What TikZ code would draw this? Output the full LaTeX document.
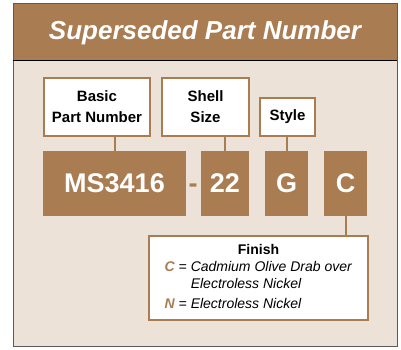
\documentclass[tikz,border=0pt]{standalone}
\usepackage{fontspec}
\setmainfont{Liberation Sans}
\definecolor{brown}{HTML}{A97C52}
\definecolor{beige}{HTML}{EDE2D7}
\definecolor{frame}{HTML}{5A5A5A}
\tikzset{
  labelbox/.style={draw=brown, line width=2pt, fill=white, minimum height=58pt, inner sep=0pt, outer sep=0pt, align=center, font=\fontsize{15}{21}\selectfont\bfseries},
  codebox/.style={fill=brown, minimum height=65pt, inner sep=0pt, outer sep=0pt, text=white, font=\fontsize{27}{30}\selectfont\bfseries},
  link/.style={draw=brown, line width=2pt}
}

\begin{document}
\begin{tikzpicture}[x=1pt, y=-1pt]
\useasboundingbox (0, 0) rectangle (401, 350);
\filldraw[fill=beige, draw=frame, line width=1pt] (13, 4) rectangle (397, 346);
\filldraw[fill=brown, draw=frame, line width=1pt] (13, 4) rectangle (397, 61);
\draw[black, line width=1pt] (13, 61) -- (397, 61);
\node (title) [text=white, font=\fontsize{26}{30}\selectfont\bfseries\itshape] at (205, 32.5) {Superseded Part Number};

\node (basic) [labelbox, minimum width=106pt] at (97, 107) {Basic\\Part Number};
\node (shell) [labelbox, minimum width=87pt] at (205.5, 107) {Shell\\Size};
\node (style) [labelbox, minimum width=55pt, minimum height=38pt] at (287.5, 117) {Style};

\node (ms) [codebox, minimum width=143pt] at (114.5, 183.5) {MS3416};
\node (dash) [text=brown, anchor=base, font=\fontsize{27}{30}\selectfont\bfseries] at ([xshift=78.5pt]ms.base) {-};
\node (size) [codebox, minimum width=48pt] at (225, 183.5) {22};
\node (shape) [codebox, minimum width=43pt] at (286.5, 183.5) {G};
\node (plating) [codebox, minimum width=43pt] at (345.5, 183.5) {C};

\node (finish) [draw=brown, line width=2pt, fill=white, minimum width=219pt, minimum height=84pt, inner sep=0pt, outer sep=0pt, font=\fontsize{14}{17}\selectfont] at (258.5, 278) {%
\begin{tabular}{@{}l@{}}
\multicolumn{1}{@{}c@{}}{\bfseries Finish}\\
\textcolor{brown}{\bfseries\itshape C} \textit{= Cadmium Olive Drab over}\\
\phantom{\bfseries C = }\textit{Electroless Nickel}\\[3pt]
\textcolor{brown}{\bfseries\itshape N} \textit{= Electroless Nickel}
\end{tabular}};

\draw[link] (ms.north) -- (ms.north |- basic.south);
\draw[link] (size.north) -- (size.north |- shell.south);
\draw[link] (shape.north) -- (shape.north |- style.south);
\draw[link] (plating.south) -- (plating.south |- finish.north);
\end{tikzpicture}
\end{document}
